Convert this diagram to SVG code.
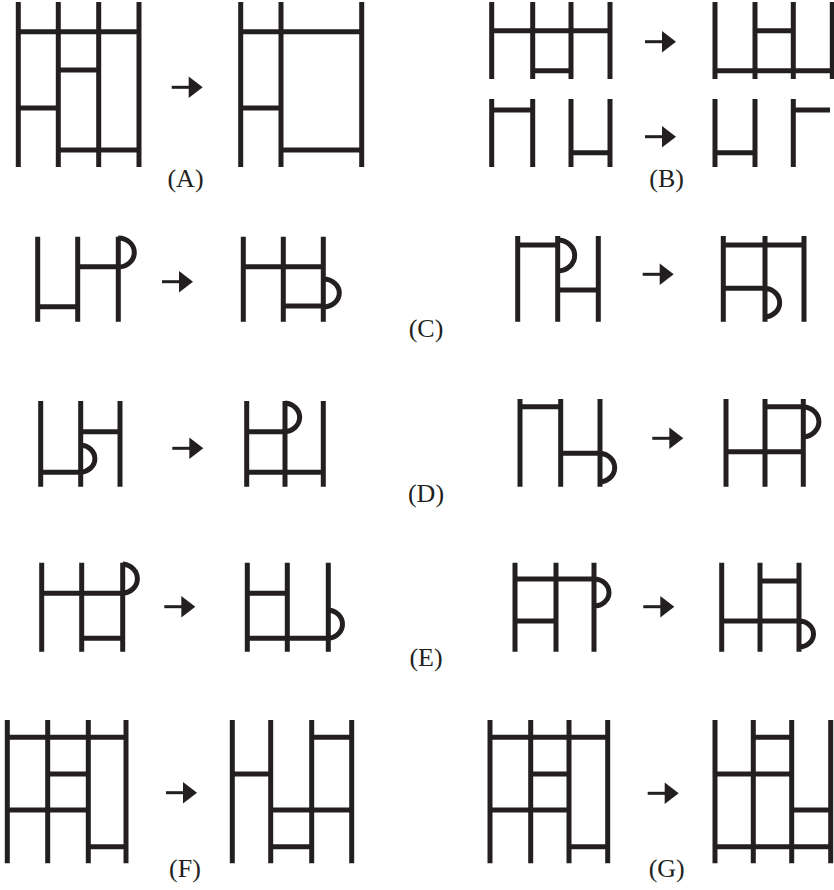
<svg xmlns="http://www.w3.org/2000/svg" xmlns:xlink="http://www.w3.org/1999/xlink" width="834" height="890" viewBox="0 0 834 890">
<style>
.l{fill:none;stroke:#231f20;stroke-width:5;stroke-linecap:butt}
.lab{font-family:"Liberation Serif","DejaVu Serif",serif;font-size:26px;fill:#231f20;text-anchor:middle}
</style>
<defs>
<g id="arr">
<line x1="0" y1="0" x2="19" y2="0" stroke="#231f20" stroke-width="3"/>
<polygon points="17,-10.7 31,0 17,10.7" fill="#231f20"/>
</g>
</defs>
<rect width="834" height="890" fill="#fff"/>

<g id="A-before"><path class="l" d="M18.3 2V167M58.3 2V167M98.7 2V167M139 2V167M18.3 31.7H139M58.3 70H98.7M18.3 108H58.3M58.3 150H139"/></g>
<g id="A-after"><path class="l" d="M240.7 2V167M281 2V167M361.7 2V167M240.7 31.7H361.7M240.7 108H281M281 150H361.7"/></g>

<g id="B-top-before"><path class="l" d="M491.7 2V79M532.7 2V79M571 2V79M610 2V79M491.7 30.7H610M532.7 70.7H571"/></g>
<g id="B-top-after"><path class="l" d="M715 2V79M755 2V79M793.3 2V79M832.3 2V79M755 30.7H793.3M715 70.7H834"/></g>
<g id="B-bottom-before"><path class="l" d="M491.7 99V167M532.7 99V167M571 99V167M610 99V167M491.7 110H532.7M571 152.7H610"/></g>
<g id="B-bottom-after"><path class="l" d="M715 99V167M755 99V167M793.3 99V167M715 152.7H755M793.3 110H830"/></g>

<g id="C1-before"><path class="l" d="M37.7 236.7V321.7M77.7 236.7V321.7M118.3 236.7V321.7M37.7 306.7H77.7M77.7 266.7H118.3M118.3 238A16 14.5 0 0 1 118.3 267"/></g>
<g id="C1-after"><path class="l" d="M243.3 236.7V321.7M283.3 236.7V321.7M323.3 236.7V321.7M243.3 266.7H323.3M283.3 306H323.3M323.3 279A16 14 0 0 1 323.3 307"/></g>
<g id="C2-before"><path class="l" d="M517.7 236V321.7M557.7 236V321.7M598.3 236V321.7M517.7 245H557.7M557.7 290H598.3M557.7 240A17 15.5 0 0 1 557.7 271"/></g>
<g id="C2-after"><path class="l" d="M723.3 236V321.7M765 236V321.7M804 236V321.7M723.3 245H804M723.3 288.3H765M765 288.3A16 14.4 0 0 1 765 317"/></g>

<g id="D1-before"><path class="l" d="M40.7 401V486.7M80.7 401V486.7M120 401V486.7M80.7 431.7H120M40.7 472.3H80.7M80.7 445A15.5 13.7 0 0 1 80.7 472.3"/></g>
<g id="D1-after"><path class="l" d="M246.7 401V486.7M285 401V486.7M323.3 401V486.7M246.7 431.7H285M246.7 472.3H323.3M285 403A16 14.4 0 0 1 285 431.7"/></g>
<g id="D2-before"><path class="l" d="M520 399V486.7M560.7 399V486.7M600 399V486.7M520 406.7H560.7M560.7 453.3H600M600 453.3A16 14.4 0 0 1 600 482"/></g>
<g id="D2-after"><path class="l" d="M726 399V486.7M765 399V486.7M803.3 399V486.7M765 406.7H803.3M726 451.7H803.3M803.3 406.7A17 15.2 0 0 1 803.3 437"/></g>

<g id="E1-before"><path class="l" d="M41.7 562.7V651.7M81.7 562.7V651.7M122.7 562.7V651.7M41.7 593.3H122.7M81.7 638.3H122.7M122.7 564A16 14.7 0 0 1 122.7 593.3"/></g>
<g id="E1-after"><path class="l" d="M247.3 562.7V651.7M287.3 562.7V651.7M328.3 562.7V651.7M247.3 593.3H287.3M247.3 638.3H328.3M328.3 610A15.5 14.2 0 0 1 328.3 638.3"/></g>
<g id="E2-before"><path class="l" d="M515 562.7V651.7M556 562.7V651.7M594 562.7V651.7M515 579H594M515 621H556M594 579A15 13.5 0 0 1 594 606"/></g>
<g id="E2-after"><path class="l" d="M721.7 562.7V651.7M760 562.7V651.7M799 562.7V651.7M760 581H799M721.7 621H799M799 621A14.5 13 0 0 1 799 647"/></g>

<g id="F-before"><path class="l" d="M7.3 720V863.3M47.7 720V863.3M88.3 720V863.3M126 720V863.3M7.3 737.3H126M47.7 774H88.3M7.3 810H88.3M88.3 846.7H126"/></g>
<g id="F-after"><path class="l" d="M232.3 720V863.3M270.7 720V863.3M311.7 720V863.3M351.7 720V863.3M232.3 774H270.7M311.7 737.3H351.7M270.7 810H351.7M270.7 846.7H311.7"/></g>
<g id="G-before"><path class="l" d="M490 720V863.3M530.7 720V863.3M569 720V863.3M607.7 720V863.3M490 737.3H607.7M530.7 774H569M490 810H569M569 846.7H607.7"/></g>
<g id="G-after"><path class="l" d="M715 720V863.3M753.3 720V863.3M791.7 720V863.3M830.7 720V863.3M753.3 737.3H791.7M715 774H791.7M791.7 810H830.7M715 846.7H830.7"/></g>

<g id="connectors">
<use xlink:href="#arr" transform="translate(171.7 87.3)"/>
<use xlink:href="#arr" transform="translate(645 41.7)"/>
<use xlink:href="#arr" transform="translate(645 136.7)"/>
<use xlink:href="#arr" transform="translate(162 281.7)"/>
<use xlink:href="#arr" transform="translate(642.7 274.3)"/>
<use xlink:href="#arr" transform="translate(172.3 448.3)"/>
<use xlink:href="#arr" transform="translate(652.3 438.3)"/>
<use xlink:href="#arr" transform="translate(164.3 606.7)"/>
<use xlink:href="#arr" transform="translate(643.3 606.7)"/>
<use xlink:href="#arr" transform="translate(166 792.7)"/>
<use xlink:href="#arr" transform="translate(647.7 793.3)"/>
</g>

<g id="labels">
<text class="lab" x="185.5" y="187">(A)</text>
<text class="lab" x="666.7" y="187">(B)</text>
<text class="lab" x="426" y="337">(C)</text>
<text class="lab" x="426" y="502">(D)</text>
<text class="lab" x="426" y="666">(E)</text>
<text class="lab" x="185" y="877">(F)</text>
<text class="lab" x="666.7" y="877">(G)</text>
</g>
</svg>
